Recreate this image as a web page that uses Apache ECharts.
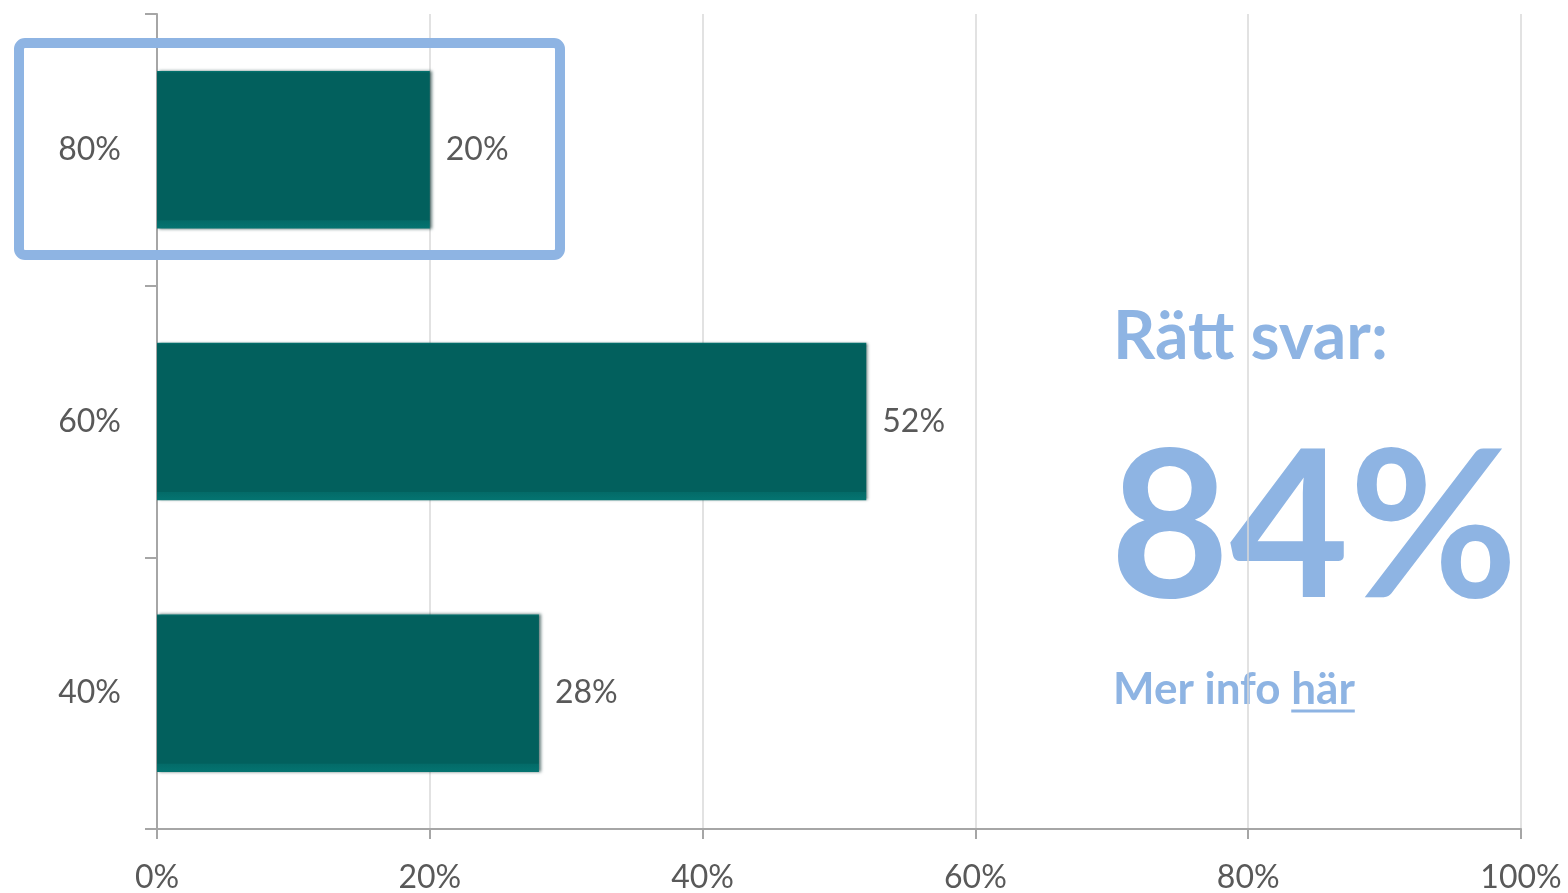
<!DOCTYPE html>
<html>
<head>
<meta charset="utf-8">
<script src="https://cdn.jsdelivr.net/npm/echarts@6/dist/echarts.min.js"></script>
<style>
  html, body { margin: 0; padding: 0; background: #fff; }
  #chart { width: 1568px; height: 893px; }
</style>
</head>
<body>
<div id="chart"></div>
<script>
// answer options, bottom to top (category axis runs upward)
const categories = ["40%", "60%", "80%"];
const shares = [28, 52, 20];
const xTicks = [0, 20, 40, 60, 80, 100];
const answerText = "Rätt svar:";
const answerValue = "84%";

const FONT = "Lato";
const labelGrey = "#595959";
const accent = "#8EB4E3";

const chart = echarts.init(document.getElementById("chart"));

// width of "Mer info " so the underline can sit under "här"
function textWidth(str, font) {
  const ctx = document.createElement("canvas").getContext("2d");
  ctx.font = font;
  return ctx.measureText(str).width;
}
const infoFont = "bold 44px " + FONT;
const leadW = textWidth("Mer info ", infoFont);
const harW = textWidth("här", infoFont);

const option = {
  backgroundColor: "#fff",
  animation: false,
  grid: {
    left: 157,
    right: 47,
    top: 14,
    bottom: 64,
    containLabel: false,
    outerBoundsMode: "none"
  },
  xAxis: {
    type: "value",
    min: xTicks[0],
    max: xTicks[xTicks.length - 1],
    interval: 20,
    axisLine: { show: true, lineStyle: { color: "#A6A6A6", width: 2 } },
    axisTick: { show: true, length: 10, lineStyle: { color: "#A6A6A6", width: 2 } },
    splitLine: { show: true, lineStyle: { color: "#D9D9D9", width: 1.5 } },
    axisLabel: {
      margin: 33,
      formatter: "{value}%",
      color: labelGrey,
      fontFamily: FONT,
      fontSize: 32
    }
  },
  yAxis: {
    type: "category",
    data: categories,
    axisLine: { show: true, lineStyle: { color: "#A6A6A6", width: 2 } },
    axisTick: { show: true, length: 12, lineStyle: { color: "#A6A6A6", width: 2 } },
    axisLabel: {
      margin: 36,
      color: labelGrey,
      fontFamily: FONT,
      fontSize: 32
    }
  },
  series: [
    {
      type: "bar",
      data: shares,
      barCategoryGap: "42%",
      itemStyle: {
        // flat teal with a lighter bevel strip along the bottom edge
        color: {
          type: "linear",
          x: 0, y: 0, x2: 0, y2: 1,
          colorStops: [
            { offset: 0, color: "#037571" },
            { offset: 0.012, color: "#02605D" },
            { offset: 0.945, color: "#02605D" },
            { offset: 0.95, color: "#036B68" },
            { offset: 1, color: "#047471" }
          ]
        },
        shadowColor: "rgba(0,40,38,0.6)",
        shadowOffsetX: 2,
        shadowBlur: 3
      },
      label: {
        show: true,
        position: "right",
        distance: 16,
        formatter: "{c}%",
        color: labelGrey,
        fontFamily: FONT,
        fontSize: 32
      }
    }
  ],
  graphic: [
    {
      // highlight frame around the top option
      type: "rect",
      shape: { x: 19, y: 43, width: 541, height: 212, r: 6 },
      style: { fill: "none", stroke: accent, lineWidth: 10 },
      z: 10
    },
    {
      type: "text",
      x: 1113,
      y: 305,
      style: {
        text: answerText,
        fill: accent,
        font: "bold 66px " + FONT,
        textVerticalAlign: "top"
      }
    },
    {
      type: "text",
      x: 1110,
      y: 428,
      style: {
        text: answerValue,
        fill: accent,
        font: "bold 206px " + FONT,
        textVerticalAlign: "top"
      }
    },
    {
      type: "text",
      x: 1113,
      y: 668,
      style: {
        text: "Mer info här",
        fill: accent,
        font: infoFont,
        textVerticalAlign: "top"
      }
    },
    {
      type: "line",
      shape: { x1: 1113 + leadW, y1: 711, x2: 1113 + leadW + harW, y2: 711 },
      style: { stroke: accent, lineWidth: 3 }
    }
  ]
};

chart.setOption(option);
</script>
</body>
</html>
